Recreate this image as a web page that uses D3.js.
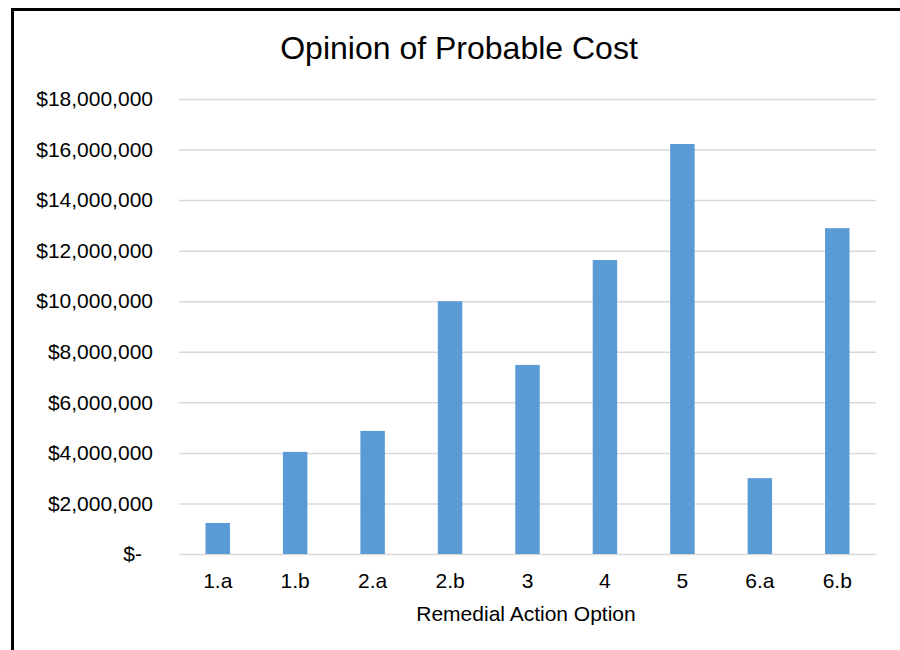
<!DOCTYPE html>
<html>
<head>
<meta charset="utf-8">
<script src="https://cdn.jsdelivr.net/npm/d3@7/dist/d3.min.js"></script>
<style>
  html, body { margin: 0; padding: 0; background: #fff; }
  svg { display: block; }
  text { font-family: "Liberation Sans", Arial, sans-serif; fill: #000; }
</style>
</head>
<body>
<svg id="chart" width="900" height="650"></svg>
<script>
const categories = ["1.a", "1.b", "2.a", "2.b", "3", "4", "5", "6.a", "6.b"];
const costs = [1230000, 4040000, 4870000, 10000000, 7480000, 11630000, 16220000, 3000000, 12890000];
const yTicks = [0, 2000000, 4000000, 6000000, 8000000, 10000000, 12000000, 14000000, 16000000, 18000000];
const titleText = "Opinion of Probable Cost";
const xTitleText = "Remedial Action Option";

const svg = d3.select("#chart");
const plotLeft = 179, plotRight = 876, plotTop = 99, plotBottom = 554;

// outer border
svg.append("rect")
  .attr("x", 12.5).attr("y", 9.5)
  .attr("width", 1000).attr("height", 1000)
  .attr("fill", "none").attr("stroke", "#000").attr("stroke-width", 3);

const x = d3.scaleBand().domain(categories).range([plotLeft, plotRight])
  .paddingInner(0.684).paddingOuter(0.342);
const y = d3.scaleLinear().domain([0, 18000000]).range([plotBottom, plotTop]);

// gridlines + y labels
const yAxis = d3.axisLeft(y).tickValues(yTicks)
  .tickSize(-(plotRight - plotLeft)).tickPadding(26)
  .tickFormat(d => d === 0 ? "$-" : "$" + d3.format(",")(d));
const gy = svg.append("g").attr("transform", `translate(${plotLeft},0)`).call(yAxis);
gy.select(".domain").remove();
gy.selectAll(".tick line").attr("stroke", "#d9d9d9").attr("stroke-width", 1.5);
gy.selectAll(".tick text")
  .attr("font-size", 21)
  .attr("fill", "#000")
  .attr("dx", d => d === 0 ? -11 : 0);

// bars
svg.append("g").selectAll("rect").data(costs).join("rect")
  .attr("x", (d, i) => x(categories[i]))
  .attr("y", d => y(d))
  .attr("width", x.bandwidth())
  .attr("height", d => y(0) - y(d))
  .attr("fill", "#5b9bd5");

// x axis labels
const xAxis = d3.axisBottom(x).tickSize(0).tickPadding(19);
const gx = svg.append("g").attr("transform", `translate(0,${plotBottom})`).call(xAxis);
gx.select(".domain").remove();
gx.selectAll(".tick text").attr("font-size", 21).attr("fill", "#000");

// title
svg.append("text").attr("x", 459).attr("y", 58.5)
  .attr("text-anchor", "middle").attr("font-size", 32).text(titleText);

// x axis title
svg.append("text").attr("x", 526).attr("y", 621)
  .attr("text-anchor", "middle").attr("font-size", 21).text(xTitleText);
</script>
</body>
</html>
